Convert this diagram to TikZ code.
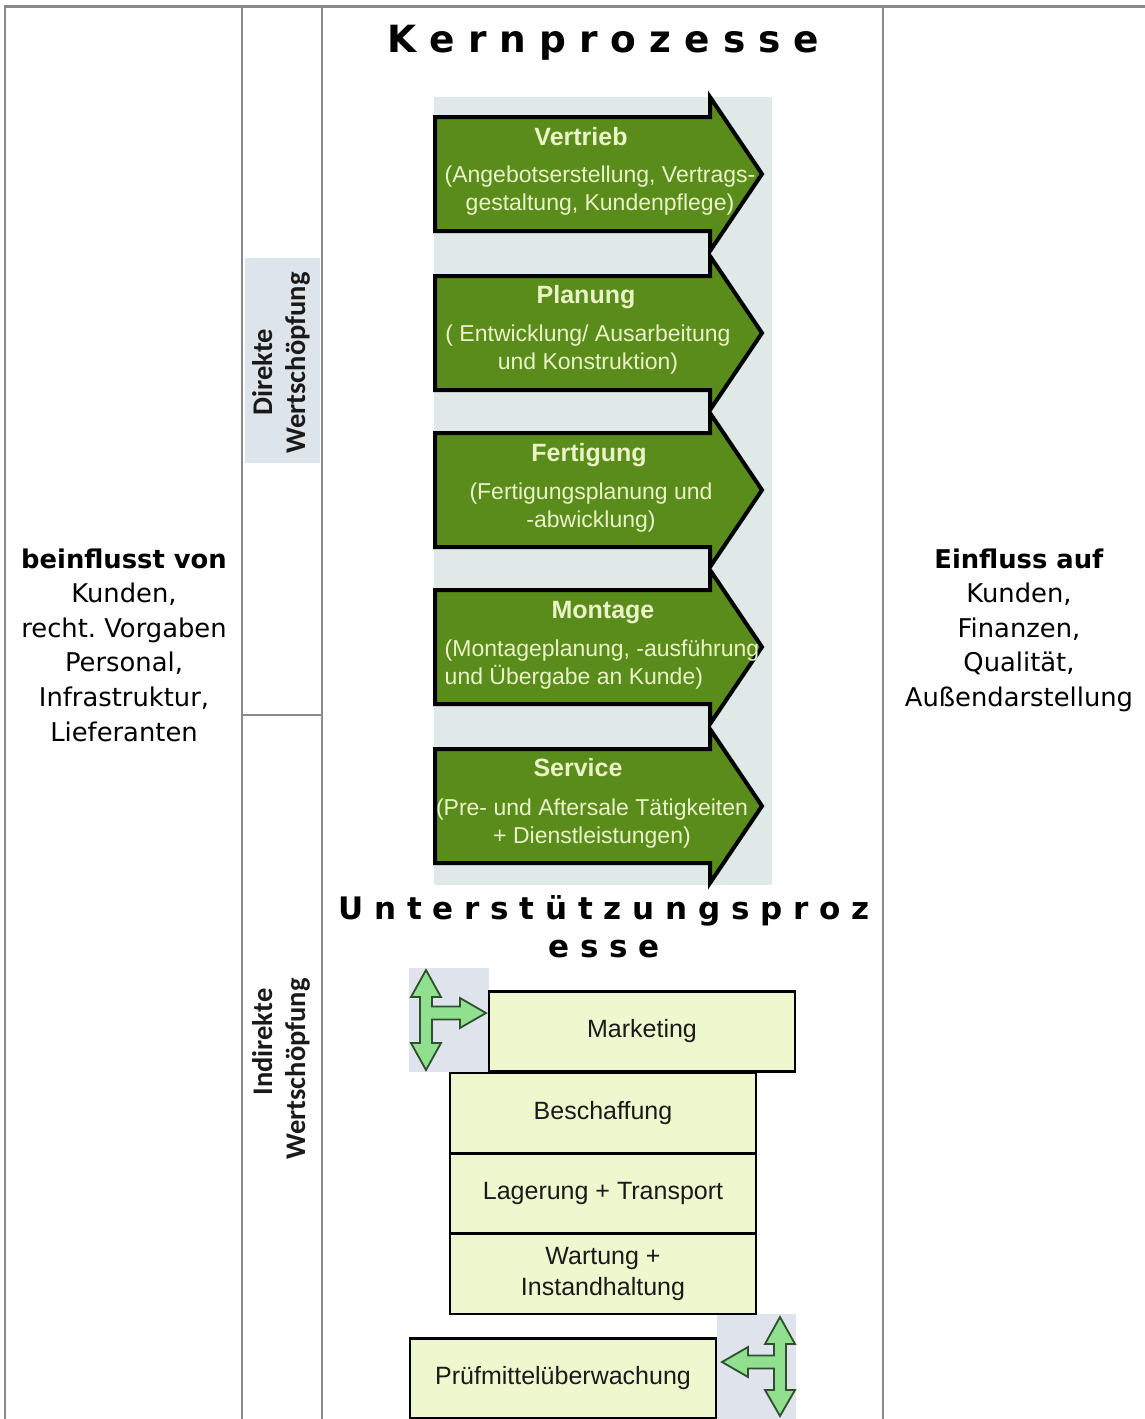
\documentclass[tikz,border=0pt]{standalone}
\usepackage{fontspec}
\setmainfont{DejaVu Sans}
\newfontfamily\arialf{Liberation Sans}
\newfontfamily\calf{Carlito}
\frenchspacing
\definecolor{gridgray}{HTML}{8A8A8A}
\definecolor{procgreen}{HTML}{5A8C1C}
\definecolor{proctext}{HTML}{EAF3C6}
\definecolor{imgbg}{HTML}{DFE9E7}
\definecolor{dwsbg}{HTML}{DDE5EB}
\definecolor{supfill}{HTML}{EFF7CF}
\definecolor{iconbg}{HTML}{DFE3EC}
\definecolor{iconfill}{HTML}{90E090}
\definecolor{iconline}{HTML}{2F4F2F}
\definecolor{darktext}{HTML}{1A1A1A}
\tikzset{
  gridline/.style={draw=gridgray, line width=2.5pt},
  sidetext/.style={align=center, inner sep=0pt, font=\fontsize{25.8}{34.6}\selectfont, text=black},
  bigtitle/.style={inner sep=0pt, font=\bfseries\fontsize{37.5}{40}\selectfont, text=black},
  subtitle/.style={inner sep=0pt, align=center, font=\bfseries\fontsize{31}{38}\selectfont, text=black},
  rotlab/.style={inner sep=0pt, rotate=90, anchor=base, font=\calf\bfseries\fontsize{28.5}{34}\selectfont, text=darktext},
  procarrow/.style={fill=procgreen, draw=black, line width=4pt, line join=miter},
  proctitle/.style={inner sep=0pt, anchor=base, font=\arialf\bfseries\fontsize{25}{28}\selectfont, text=proctext},
  procsub/.style={inner sep=0pt, anchor=base, align=center, font=\arialf\fontsize{23}{28}\selectfont, text=proctext},
  supbox/.style={draw=black, line width=2.5pt, fill=supfill, inner sep=0pt, align=center,
    minimum width=306pt, minimum height=80pt, font=\arialf\fontsize{25}{31}\selectfont, text=darktext},
  iconarrow/.style={fill=iconfill, draw=iconline, line width=1.8pt, line join=miter}
}
\begin{document}
\begin{tikzpicture}[x=1pt,y=-1pt]
\useasboundingbox (0,0) rectangle (1145,1419);
\fill[white] (0,0) rectangle (1145,1419);

% table grid
\draw[gridline] (5,1419) -- (5,6.5) -- (1145,6.5);
\draw[gridline] (242,6.5) -- (242,1419);
\draw[gridline] (322,6.5) -- (322,1419);
\draw[gridline] (883,6.5) -- (883,1419);
\draw[gridline] (242,715) -- (322,715);

% side texts (base anchor = baseline of last line)
\node[sidetext, anchor=base] (lefttxt) at (124,741) {\textbf{beinflusst von}\\Kunden,\\recht. Vorgaben\\Personal,\\Infrastruktur,\\Lieferanten};
\node[sidetext, anchor=base] (righttxt) at (1019,706.5) {\textbf{Einfluss auf}\\Kunden,\\Finanzen,\\Qualität,\\Außendarstellung};

% rotated labels
\fill[dwsbg] (245,258) rectangle (320,463);
\node[rotlab] (dws1) at (272,372) {Direkte};
\node[rotlab] (dws2) at (305,363) {Wertschöpfung};
\node[rotlab] (iws1) at (272,1042) {Indirekte};
\node[rotlab] (iws2) at (305,1069) {Wertschöpfung};

% titles
\node[bigtitle, anchor=base] (kern) at (603.5,52) {K e r n p r o z e s s e};
\node[subtitle, anchor=base] (unter) at (604,957) {U n t e r s t ü t z u n g s p r o z\\e s s e};

% core process arrows
\fill[imgbg] (434,97) rectangle (772,885);
\foreach \c in {174,333,490,647,806}{
  \draw[procarrow] (435,{\c-57}) -- (710,{\c-57}) -- (710,{\c-77}) -- (762,\c)
    -- (710,{\c+77}) -- (710,{\c+57}) -- (435,{\c+57}) -- cycle;
}
\node[proctitle] (t1) at (581,145) {Vertrieb};
\node[procsub] (s1) at (600,210) {(Angebotserstellung, Vertrags-\\gestaltung, Kundenpflege)};
\node[proctitle] (t2) at (586,303) {Planung};
\node[procsub] (s2) at (588,369) {( Entwicklung/ Ausarbeitung\\und Konstruktion)};
\node[proctitle] (t3) at (589,461) {Fertigung};
\node[procsub] (s3) at (591,527) {(Fertigungsplanung und\\-abwicklung)};
\node[proctitle] (t4) at (603,618) {Montage};
\node[procsub, align=left] (s4) at (602,684) {(Montageplanung, -ausführung\\und Übergabe an Kunde)};
\node[proctitle] (t5) at (578,776) {Service};
\node[procsub] (s5) at (592,843) {(Pre- und Aftersale Tätigkeiten\\+ Dienstleistungen)};

% support processes
\fill[iconbg] (409,968) rectangle (489,1072);
\fill[iconbg] (717,1314) rectangle (796,1419);
\node[supbox] (mkt) at (642,1031.5) {Marketing};
\node[supbox] (besch) at (603,1113) {Beschaffung};
\node[supbox] (lager) at (603,1193.5) {Lagerung + Transport};
\node[supbox] (wart) at (603,1274) {Wartung +\\Instandhaltung};
\node[supbox] (pruef) at (563,1378.5) {Prüfmittelüberwachung};

% T-arrow icons
\draw[iconarrow] (426,970) -- (441,997) -- (432,997) -- (432,1006.5) -- (460,1006.5) -- (460,998)
  -- (486,1013) -- (460,1028) -- (460,1019.5) -- (432,1019.5) -- (432,1043) -- (441,1043)
  -- (426,1070) -- (411,1043) -- (420,1043) -- (420,997) -- (411,997) -- cycle;
\draw[iconarrow] (780,1317) -- (795,1344) -- (786,1344) -- (786,1390) -- (795,1390) -- (780,1416)
  -- (765,1390) -- (774,1390) -- (774,1368.5) -- (748,1368.5) -- (748,1377) -- (722,1362)
  -- (748,1347) -- (748,1355.5) -- (774,1355.5) -- (774,1344) -- (765,1344) -- cycle;
\end{tikzpicture}
\end{document}
